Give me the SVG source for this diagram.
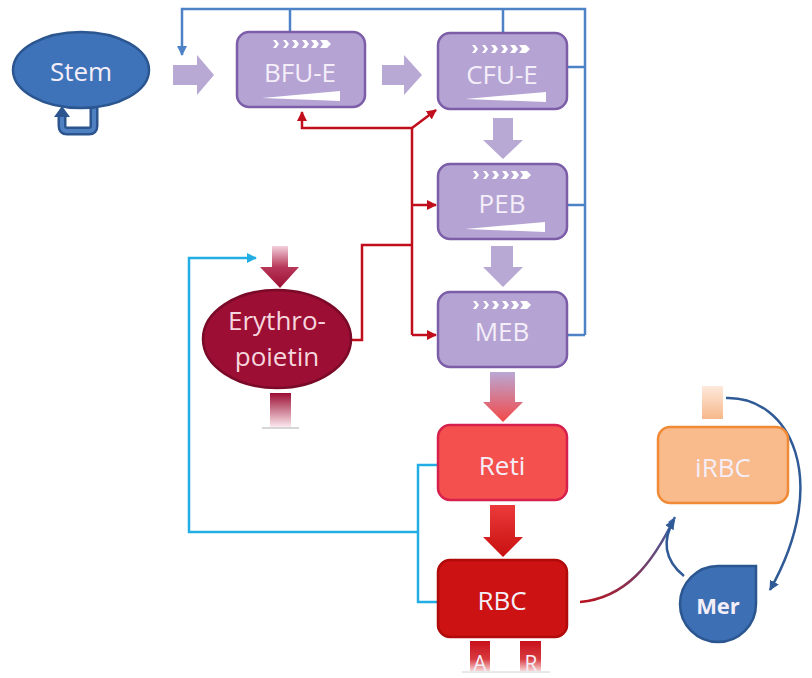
<svg xmlns="http://www.w3.org/2000/svg" width="812" height="678" viewBox="0 0 812 678">
<defs>
<style>
.txt{font-family:"Open Sans","Noto Sans","DejaVu Sans",sans-serif;font-size:26px;fill:#f4eef8;text-anchor:middle}
.pbox{fill:#b4a3d3;stroke:#7c5da8;stroke-width:2.5}
.parrow{fill:#b7a8d4}
.chev{fill:#ffffff}
.wedge{fill:#ffffff}
.blue{fill:none;stroke:#4d82c6;stroke-width:2.5}
.red{fill:none;stroke:#c10e1c;stroke-width:2.5}
.cyan{fill:none;stroke:#22aee4;stroke-width:2.5}
.dblue{fill:none;stroke:#2f5a96;stroke-width:2.5}
</style>
<marker id="mBlue" viewBox="0 0 10 10" refX="9" refY="5" markerWidth="4" markerHeight="4" orient="auto"><path d="M0,0 L10,5 L0,10 Z" fill="#4d82c6"/></marker>
<marker id="mRed" viewBox="0 0 10 10" refX="9" refY="5" markerWidth="4" markerHeight="4" orient="auto"><path d="M0,0 L10,5 L0,10 Z" fill="#c10e1c"/></marker>
<marker id="mCyan" viewBox="0 0 10 10" refX="9" refY="5" markerWidth="4" markerHeight="4" orient="auto"><path d="M0,0 L10,5 L0,10 Z" fill="#22aee4"/></marker>
<marker id="mDBlue" viewBox="0 0 10 10" refX="9" refY="5" markerWidth="4" markerHeight="4" orient="auto"><path d="M0,0 L10,5 L0,10 Z" fill="#2f5a96"/></marker>
<linearGradient id="gMebReti" x1="0" y1="0" x2="0" y2="1"><stop offset="0" stop-color="#b9a8d4"/><stop offset="1" stop-color="#f44848"/></linearGradient>
<linearGradient id="gRetiRbc" x1="0" y1="0" x2="0" y2="1"><stop offset="0" stop-color="#ec3a3a"/><stop offset="1" stop-color="#c81010"/></linearGradient>
<linearGradient id="gEpoIn" x1="0" y1="0" x2="0" y2="1"><stop offset="0" stop-color="#f3d0da"/><stop offset="0.5" stop-color="#b8385a"/><stop offset="1" stop-color="#9c0e34"/></linearGradient>
<linearGradient id="gEpoOut" x1="0" y1="0" x2="0" y2="1"><stop offset="0" stop-color="#9c0e34"/><stop offset="1" stop-color="#fbe9ee"/></linearGradient>
<linearGradient id="gStub" x1="0" y1="0" x2="0" y2="1"><stop offset="0" stop-color="#c8101a"/><stop offset="0.6" stop-color="#d83a40"/><stop offset="1" stop-color="#f8d6d6"/></linearGradient>
<linearGradient id="gIrbcStub" x1="0" y1="0" x2="0" y2="1"><stop offset="0" stop-color="#fde9dc"/><stop offset="1" stop-color="#f7b88a"/></linearGradient>
<linearGradient id="gCurve" gradientUnits="userSpaceOnUse" x1="580" y1="600" x2="676" y2="515"><stop offset="0" stop-color="#b8121e"/><stop offset="1" stop-color="#3a64a8"/></linearGradient>
<g id="chevrons">
<path class="chev" d="M0,0 L3,0 L6,4 L3,8 L0,8 L3,4 Z"/>
<path class="chev" d="M10,0 L13,0 L16,4 L13,8 L10,8 L13,4 Z"/>
<path class="chev" d="M19,0 L23,0 L26,4 L23,8 L19,8 L22,4 Z"/>
<path class="chev" d="M29,0 L33,0 L36,4 L33,8 L29,8 L32,4 Z"/>
<path class="chev" d="M38,0 L43,0 L46,4 L43,8 L38,8 L41,4 Z"/>
<path class="chev" d="M47,0 L54,0 L58,4 L54,8 L47,8 L50,4 Z"/>
</g>
</defs>
<rect width="812" height="678" fill="#ffffff"/>

<g id="connectors">
<polyline class="blue" points="585,335 585,9 182,9 182,55" marker-end="url(#mBlue)"/>
<line class="blue" x1="290" y1="9" x2="290" y2="32"/>
<line class="blue" x1="503" y1="9" x2="503" y2="33"/>
<line class="blue" x1="567" y1="67" x2="585" y2="67"/>
<line class="blue" x1="567" y1="205" x2="585" y2="205"/>
<line class="blue" x1="567" y1="335" x2="585" y2="335"/>
<polyline class="red" points="350,340 362,340 362,245 412,245"/>
<line class="red" x1="412" y1="128" x2="412" y2="335"/>
<polyline class="red" points="412,128 302,128 302,112" marker-end="url(#mRed)"/>
<line class="red" x1="412" y1="128" x2="436" y2="110" marker-end="url(#mRed)"/>
<line class="red" x1="412" y1="205" x2="436" y2="205" marker-end="url(#mRed)"/>
<line class="red" x1="412" y1="335" x2="436" y2="335" marker-end="url(#mRed)"/>
<polyline class="cyan" points="438,465 418,465 418,602 438,602"/>
<polyline class="cyan" points="418,532 189,532 189,258 256,258" marker-end="url(#mCyan)"/>
<path class="parrow" d="M173,65 L197,65 L197,55 L214,75 L197,95 L197,85 L173,85 Z"/>
<path class="parrow" d="M382,65 L404,65 L404,55 L422,75 L404,95 L404,85 L382,85 Z"/>
<path class="parrow" d="M493,118 L513,118 L513,140 L523,140 L503,159 L483,140 L493,140 Z"/>
<path class="parrow" d="M491,246 L513,246 L513,267 L523,267 L503,287 L483,267 L491,267 Z"/>
<path fill="url(#gMebReti)" d="M490,372 L515,372 L515,402 L523,402 L503,422 L483,402 L490,402 Z"/>
<path fill="url(#gRetiRbc)" d="M490,505 L515,505 L515,537 L523,537 L503,557 L483,537 L490,537 Z"/>
<path fill="url(#gEpoIn)" d="M272,246 L288,246 L288,267 L299,267 L280,288 L260,267 L272,267 Z"/>
<rect x="270" y="393" width="21" height="34" fill="url(#gEpoOut)"/>
<line x1="262" y1="428" x2="299" y2="428" stroke="#c8c8cc" stroke-width="1.5"/>
<rect x="702" y="386" width="21" height="33" fill="url(#gIrbcStub)"/>
<path d="M580,602 C625,598 652,565 675,517" fill="none" stroke="url(#gCurve)" stroke-width="2.5"/>
<path d="M675,517 l-1,9 l-6,-4 Z" fill="#3a64a8"/>
<path class="dblue" d="M684,576 C664,560 662,540 674,520" marker-end="url(#mDBlue)"/>
<path class="dblue" d="M726,398 C790,396 832,480 770,590" marker-end="url(#mDBlue)"/>
</g>

<g id="node-stem">
<path d="M94,106 L94,126 Q94,131 89,131 L67,131 Q62,131 62,126 L62,114" fill="none" stroke="#2c5590" stroke-width="9"/>
<path d="M94,106 L94,126 Q94,131 89,131 L67,131 Q62,131 62,126 L62,114" fill="none" stroke="#4f80c2" stroke-width="4"/>
<path d="M54,117 L62,106 L70,117 Z" fill="#2c5590"/>
<ellipse cx="81" cy="70" rx="68" ry="38" fill="#3e73b9" stroke="#2b5690" stroke-width="2.5"/>
<text class="txt" x="81" y="81">Stem</text>
</g>

<g id="node-bfue">
<rect class="pbox" x="237" y="32" width="128" height="75" rx="12"/>
<use href="#chevrons" x="273" y="40"/>
<path class="wedge" d="M262,98 L340,91 L340,101 Z"/>
<text class="txt" x="300" y="82">BFU-E</text>
</g>

<g id="node-cfue">
<rect class="pbox" x="438" y="33" width="129" height="76" rx="12"/>
<use href="#chevrons" x="472" y="45"/>
<path class="wedge" d="M465,99 L546,92 L546,102 Z"/>
<text class="txt" x="502" y="84">CFU-E</text>
</g>

<g id="node-peb">
<rect class="pbox" x="438" y="164" width="129" height="75" rx="12"/>
<use href="#chevrons" x="473" y="171"/>
<path class="wedge" d="M465,229 L545,222 L545,232 Z"/>
<text class="txt" x="502" y="213">PEB</text>
</g>

<g id="node-meb">
<rect class="pbox" x="438" y="292" width="129" height="75" rx="12"/>
<use href="#chevrons" x="473" y="301"/>
<text class="txt" x="502" y="341">MEB</text>
</g>

<g id="node-epo">
<ellipse cx="277" cy="339" rx="74" ry="49" fill="#9c0e34" stroke="#7a0a28" stroke-width="2.5"/>
<text class="txt" x="277" y="330" style="fill:#f6d6de">Erythro-</text>
<text class="txt" x="277" y="366" style="fill:#f6d6de">poietin</text>
</g>

<g id="node-reti">
<rect x="438" y="425" width="129" height="75" rx="12" fill="#f4504e" stroke="#d8204c" stroke-width="2.5"/>
<text class="txt" x="502" y="475">Reti</text>
</g>

<g id="node-rbc">
<rect x="438" y="560" width="129" height="77" rx="12" fill="#cc1212" stroke="#b00a0a" stroke-width="2.5"/>
<text class="txt" x="502" y="610">RBC</text>
</g>

<g id="node-a">
<rect x="470" y="641" width="20" height="30" fill="url(#gStub)"/>
<text class="txt" x="480" y="671" style="font-size:21px">A</text>
</g>
<g id="node-r">
<rect x="520" y="641" width="21" height="30" fill="url(#gStub)"/>
<text class="txt" x="531" y="671" style="font-size:21px">R</text>
</g>
<line x1="462" y1="672" x2="550" y2="672" stroke="#d0d0d4" stroke-width="1"/>

<g id="node-irbc">
<rect x="658" y="427" width="130" height="76" rx="12" fill="#f9ba8c" stroke="#f08a36" stroke-width="2.5"/>
<text class="txt" x="723" y="477">iRBC</text>
</g>

<g id="node-mer">
<path d="M718,566 L756,566 L756,604 A38,38 0 1 1 718,566 Z" fill="#3d6fb4" stroke="#2b5690" stroke-width="2.5"/>
<text class="txt" x="718" y="614" style="font-size:22px;font-weight:bold">Mer</text>
</g>
</svg>
